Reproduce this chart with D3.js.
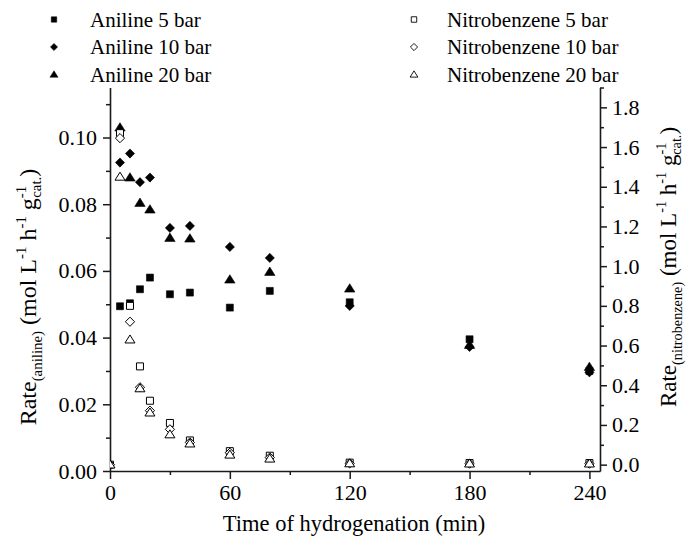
<!DOCTYPE html>
<html><head><meta charset="utf-8">
<script src="https://cdn.jsdelivr.net/npm/d3@7"></script>
<style>
body{margin:0;background:#fff}
svg{display:block}
</style>
</head><body>
<svg id="c" width="689" height="540"></svg>
<script>
// ---------- data ----------
const nitroTimes   = [0, 5, 10, 15, 20, 30, 40, 60, 80, 120, 180, 240];
const anilineTimes = [5, 10, 15, 20, 30, 40, 60, 80, 120, 180, 240];

const aniline5  = [0.0494, 0.0503, 0.0545, 0.0580, 0.0530, 0.0535, 0.0490, 0.0540, 0.0506, 0.0395, 0.0300];
const aniline10 = [0.0925, 0.0952, 0.0866, 0.0880, 0.0729, 0.0735, 0.0672, 0.0639, 0.0495, 0.0372, 0.0296];
const aniline20 = [0.1030, 0.0880, 0.0804, 0.0784, 0.0699, 0.0697, 0.0574, 0.0597, 0.0547, 0.0378, 0.0312];

const nitro5  = [0.00, 1.67, 0.80, 0.495, 0.322, 0.210, 0.122, 0.068, 0.045, 0.010, 0.008, 0.008];
const nitro10 = [0.00, 1.645, 0.72, 0.390, 0.272, 0.178, 0.112, 0.060, 0.036, 0.006, 0.005, 0.005];
const nitro20 = [0.00, 1.45, 0.63, 0.384, 0.262, 0.152, 0.106, 0.050, 0.030, 0.006, 0.005, 0.005];

const xTickValues = [0, 60, 120, 180, 240];
const xMinorValues = [30, 90, 150, 210];
const leftTickValues = [0, 0.02, 0.04, 0.06, 0.08, 0.10];
const leftMinorValues = [0.01, 0.03, 0.05, 0.07, 0.09, 0.11];
const rightTickValues = [0, 0.2, 0.4, 0.6, 0.8, 1.0, 1.2, 1.4, 1.6, 1.8];
const rightMinorValues = [0.1, 0.3, 0.5, 0.7, 0.9, 1.1, 1.3, 1.5, 1.7, 1.9];

const legendLabels = ["Aniline 5 bar", "Aniline 10 bar", "Aniline 20 bar",
                      "Nitrobenzene 5 bar", "Nitrobenzene 10 bar", "Nitrobenzene 20 bar"];

// ---------- layout ----------
const FONT = '"Liberation Serif","Tinos","Times New Roman","Times","Nimbus Roman","Nimbus Roman No9 L","FreeSerif","DejaVu Serif","Noto Serif",serif';
const svg = d3.select("#c");
const L = 110, R = 600, T = 87.5, B = 471;

const x  = d3.scaleLinear().domain([0, 245.3]).range([L, R]);
const yL = d3.scaleLinear().domain([0, 0.115]).range([B, T]);
const yR = d3.scaleLinear().domain([-0.032, 1.9]).range([B, T]);

// custom symbols (r = half size)
const sq  = {draw(c, r){ c.rect(-r, -r, 2*r, 2*r); }};
const dia = {draw(c, r){ c.moveTo(0,-r); c.lineTo(r,0); c.lineTo(0,r); c.lineTo(-r,0); c.closePath(); }};
const tri = {draw(c, r){ const h = r*1.6; c.moveTo(0,-h*0.58); c.lineTo(r,h*0.42); c.lineTo(-r,h*0.42); c.closePath(); }};

const series = [
  {label: legendLabels[0], t: anilineTimes, v: aniline5,  y: yL, sym: sq,  r: 3.5, filled: true},
  {label: legendLabels[1], t: anilineTimes, v: aniline10, y: yL, sym: dia, r: 4.6, filled: true},
  {label: legendLabels[2], t: anilineTimes, v: aniline20, y: yL, sym: tri, r: 5.2, filled: true},
  {label: legendLabels[3], t: nitroTimes,   v: nitro5,    y: yR, sym: sq,  r: 3.5, filled: false},
  {label: legendLabels[4], t: nitroTimes,   v: nitro10,   y: yR, sym: dia, r: 4.6, filled: false},
  {label: legendLabels[5], t: nitroTimes,   v: nitro20,   y: yR, sym: tri, r: 5.0, filled: false},
];

svg.append("defs").append("clipPath").attr("id","clip")
  .append("rect").attr("x", L).attr("y", 0).attr("width", R - L + 10).attr("height", B);

// ---------- axes ----------
const axCol = "#1a1a1a";
function styleAxis(g){
  g.attr("font-family", FONT);
  g.selectAll("path.domain").attr("stroke", axCol).attr("stroke-width", 1.6);
  g.selectAll(".tick line").attr("stroke", axCol).attr("stroke-width", 1.5);
  g.selectAll(".tick text").attr("font-size", 22).attr("fill", "#000").attr("font-family", FONT);
}
// x
const gx = svg.append("g").attr("transform", `translate(0,${B})`)
  .call(d3.axisBottom(x).tickValues(xTickValues).tickSize(8).tickSizeOuter(0).tickPadding(5).tickFormat(d3.format("d")));
styleAxis(gx);
const gxm = svg.append("g").attr("transform", `translate(0,${B})`)
  .call(d3.axisBottom(x).tickValues(xMinorValues).tickSize(4).tickFormat(""));
gxm.select("path.domain").remove(); styleAxis(gxm);

// left
const gl = svg.append("g").attr("transform", `translate(${L},0)`)
  .call(d3.axisLeft(yL).tickValues(leftTickValues).tickSize(7).tickSizeOuter(0).tickPadding(6).tickFormat(d3.format(".2f")));
styleAxis(gl);
const glm = svg.append("g").attr("transform", `translate(${L},0)`)
  .call(d3.axisLeft(yL).tickValues(leftMinorValues).tickSize(4).tickFormat(""));
glm.select("path.domain").remove(); styleAxis(glm);

// right
const gr = svg.append("g").attr("transform", `translate(${R},0)`)
  .call(d3.axisRight(yR).tickValues(rightTickValues).tickSize(7).tickSizeOuter(0).tickPadding(5).tickFormat(d3.format(".1f")));
styleAxis(gr);
const grm = svg.append("g").attr("transform", `translate(${R},0)`)
  .call(d3.axisRight(yR).tickValues(rightMinorValues).tickSize(4).tickFormat(""));
grm.select("path.domain").remove(); styleAxis(grm);

// ---------- markers ----------
const plot = svg.append("g").attr("clip-path", "url(#clip)");
series.forEach(s => {
  const pts = s.t.map((t, i) => ({t, v: s.v[i]}));
  plot.append("g").selectAll("path").data(pts).join("path")
    .attr("transform", d => `translate(${x(d.t)},${s.y(d.v)})`)
    .attr("d", d3.symbol().type(s.sym).size(s.r))
    .attr("fill", s.filled ? "#000" : "#fff")
    .attr("stroke", "#000")
    .attr("stroke-width", s.filled ? 0.6 : 1.0);
});

// ---------- legend ----------
const legX = [54, 414], legTextX = [90, 447], legBase = [26.5, 54, 81.5];
series.forEach((s, i) => {
  const col = Math.floor(i / 3), row = i % 3;
  svg.append("path")
    .attr("transform", `translate(${legX[col]},${legBase[row] - 7})`)
    .attr("d", d3.symbol().type(s.sym).size(s.r * 0.78))
    .attr("fill", s.filled ? "#000" : "#fff")
    .attr("stroke", "#000").attr("stroke-width", s.filled ? 0.5 : 0.9);
  svg.append("text").attr("x", legTextX[col]).attr("y", legBase[row])
    .attr("font-family", FONT).attr("font-size", 21).attr("fill", "#000").text(s.label);
});

// ---------- titles ----------
svg.append("text").attr("x", 354).attr("y", 531).attr("text-anchor", "middle")
  .attr("font-family", FONT).attr("font-size", 22.5).attr("fill", "#000").text("Time of hydrogenation (min)");

function yTitle(cx, cy, subText, size){
  const t = svg.append("text").attr("transform", `translate(${cx},${cy}) rotate(-90)`)
    .attr("text-anchor", "middle").attr("font-family", FONT).attr("font-size", size).attr("fill", "#000");
  const s = size * 0.62;
  t.append("tspan").text("Rate");
  t.append("tspan").attr("font-size", s).attr("dy", 6).text(subText);
  t.append("tspan").attr("dy", -6).text(" (mol L");
  t.append("tspan").attr("font-size", s).attr("dy", -10).text("-1");
  t.append("tspan").attr("dy", 10).text(" h");
  t.append("tspan").attr("font-size", s).attr("dy", -10).text("-1");
  t.append("tspan").attr("dy", 10).text(" g");
  t.append("tspan").attr("font-size", s).attr("dy", -10).text("-1");
  t.append("tspan").attr("font-size", s).attr("dx", -12).attr("dy", 15).text("cat.");
  t.append("tspan").attr("dy", -5).text(")");
}
yTitle(36, 297, "(aniline)", 24);
yTitle(676, 267, "(nitrobenzene)", 23);
</script>
</body></html>
